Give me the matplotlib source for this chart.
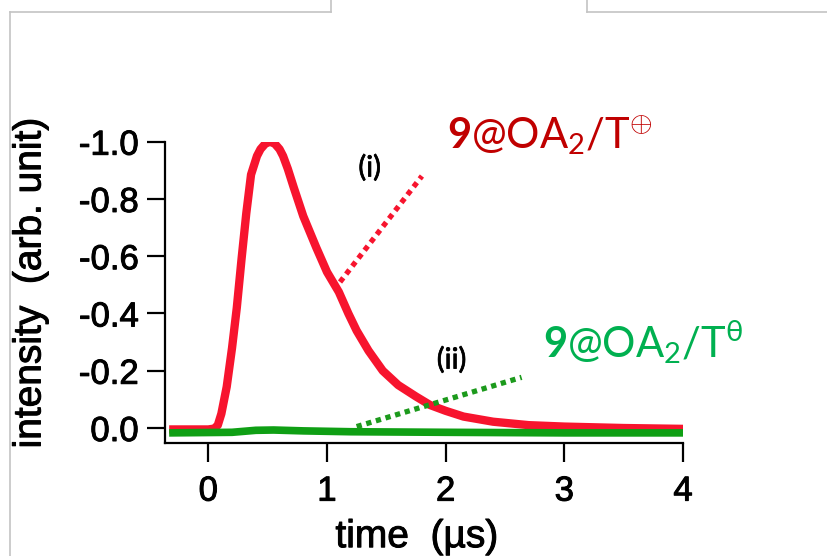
import matplotlib
matplotlib.use("Agg")
import matplotlib.pyplot as plt
from matplotlib.lines import Line2D
import matplotlib.patheffects as pe

# --- data -----------------------------------------------------------------
time_red = [-0.33, 0.0, 0.05, 0.08, 0.11, 0.155, 0.20, 0.24, 0.28, 0.32, 0.36,
            0.41, 0.44, 0.48, 0.52, 0.56, 0.60, 0.63, 0.67, 0.72, 0.80, 0.91,
            1.00, 1.05, 1.10, 1.18, 1.25, 1.35, 1.47, 1.60, 1.75, 1.87, 2.00,
            2.15, 2.40, 2.70, 3.00, 3.50, 4.00]
intensity_red = [0.005, 0.005, 0.002, -0.01, -0.05, -0.144, -0.28, -0.42,
                 -0.59, -0.75, -0.885, -0.95, -0.974, -0.993, -1.0, -0.993,
                 -0.974, -0.95, -0.905, -0.84, -0.74, -0.63, -0.545, -0.51,
                 -0.475, -0.40, -0.34, -0.27, -0.20, -0.15, -0.11, -0.08,
                 -0.06, -0.04, -0.022, -0.01, -0.005, 0.0, 0.003]

time_green = [-0.33, 0.2, 0.4, 0.55, 0.8, 1.2, 2.0, 3.0, 4.0]
intensity_green = [0.017, 0.015, 0.008, 0.007, 0.010, 0.013, 0.015, 0.017, 0.017]

# leader lines from the curves to their labels
leader_i_t = [1.11, 1.80]
leader_i_v = [-0.51, -0.88]
leader_ii_t = [1.25, 2.64]
leader_ii_v = [-0.005, -0.177]

xticks = [0, 1, 2, 3, 4]
yticks = [0.0, -0.2, -0.4, -0.6, -0.8, -1.0]
ytick_labels = ["0.0", "-0.2", "-0.4", "-0.6", "-0.8", "-1.0"]

# --- figure ---------------------------------------------------------------
W, H = 827, 556
fig = plt.figure(figsize=(W / 100, H / 100), dpi=100)
fig.patch.set_facecolor("white")

ax = fig.add_axes([165 / W, 1 - 442.7 / H, (683 - 165) / W, (442.7 - 141.7) / H])
ax.set_xlim(-0.365, 4.0)
ax.set_ylim(0.0513, -1.0)

red = "#f7142e"
green = "#0f9f14"

ax.plot(time_red, intensity_red, color=red, lw=6, solid_joinstyle="round",
        solid_capstyle="butt", zorder=3)
ax.plot(time_green, intensity_green, color=green, lw=5.5, solid_joinstyle="round",
        solid_capstyle="butt", zorder=4)

ax.plot(leader_i_t, leader_i_v, color=red, lw=3.8, linestyle=(0, (1.0, 0.9)),
        dash_capstyle="butt", zorder=5)
ax.plot(leader_ii_t, leader_ii_v, color="#1c9a1c", lw=3.8, linestyle=(0, (1.0, 0.9)),
        dash_capstyle="butt", zorder=5)

# axes styling
for side in ("top", "right"):
    ax.spines[side].set_visible(False)
for side in ("left", "bottom"):
    ax.spines[side].set_linewidth(1.6)
    ax.spines[side].set_color("black")

heavy = [pe.withStroke(linewidth=0.7, foreground="black")]

tick_font = dict(family="Liberation Sans", size=25)
ax.set_xticks(xticks)
ax.set_xticklabels([str(v) for v in xticks], fontdict=tick_font)
ax.set_yticks(yticks)
ax.set_yticklabels(ytick_labels, fontdict=tick_font)
ax.tick_params(axis="x", direction="out", length=14, width=1.6, pad=9)
ax.tick_params(axis="y", direction="out", length=13, width=1.6, pad=6)
for lab in ax.get_xticklabels() + ax.get_yticklabels():
    lab.set_path_effects(heavy)

ax.set_xlabel("time  (\u00b5s)", family="Liberation Sans", fontsize=28,
              path_effects=heavy)
ax.set_ylabel("intensity  (arb. unit)", family="Liberation Sans", fontsize=28,
              path_effects=heavy)
ax.xaxis.set_label_coords(0.486, -0.254)
ax.yaxis.set_label_coords(-0.225, 0.53)

# annotations
plt.rcParams["mathtext.fontset"] = "custom"
plt.rcParams["mathtext.rm"] = "Lato"
plt.rcParams["mathtext.bf"] = "Lato:bold"
plt.rcParams["mathtext.it"] = "Lato:italic"

ax.text(1.36, -0.908, "(i)", family="Lato", fontsize=21, color="black",
        ha="center", va="center", path_effects=[pe.withStroke(linewidth=0.5, foreground="black")])
ax.text(2.05, -0.237, "(ii)", family="Lato", fontsize=21, color="black",
        ha="center", va="center", path_effects=[pe.withStroke(linewidth=0.5, foreground="black")])

ax.text(2.01, -0.978, r"$\mathbf{9}\mathrm{@OA}_{\mathrm{2}}\mathrm{/T}^{\oplus}$",
        fontsize=30, color="#c00000", ha="left", va="baseline", clip_on=False)
ax.text(2.82, -0.245, r"$\mathbf{9}\mathrm{@OA}_{\mathrm{2}}\mathrm{/T}^{\mathrm{\theta}}$",
        fontsize=30, color="#00b050", ha="left", va="baseline", clip_on=False)

# light grey frame lines along the top and left edges
frame = "#c4c4c4"
segments = [((9.5, 12), (330.5, 12)), ((330.5, 0), (330.5, 12)),
            ((9.5, 12), (9.5, H)), ((587, 0), (587, 12)), ((587, 12), (W, 12))]
for (x0, y0), (x1, y1) in segments:
    fig.add_artist(Line2D([x0 / W, x1 / W], [1 - y0 / H, 1 - y1 / H],
                          transform=fig.transFigure, color=frame, lw=1.2))

fig.savefig("out.png", dpi=100, facecolor="white")
